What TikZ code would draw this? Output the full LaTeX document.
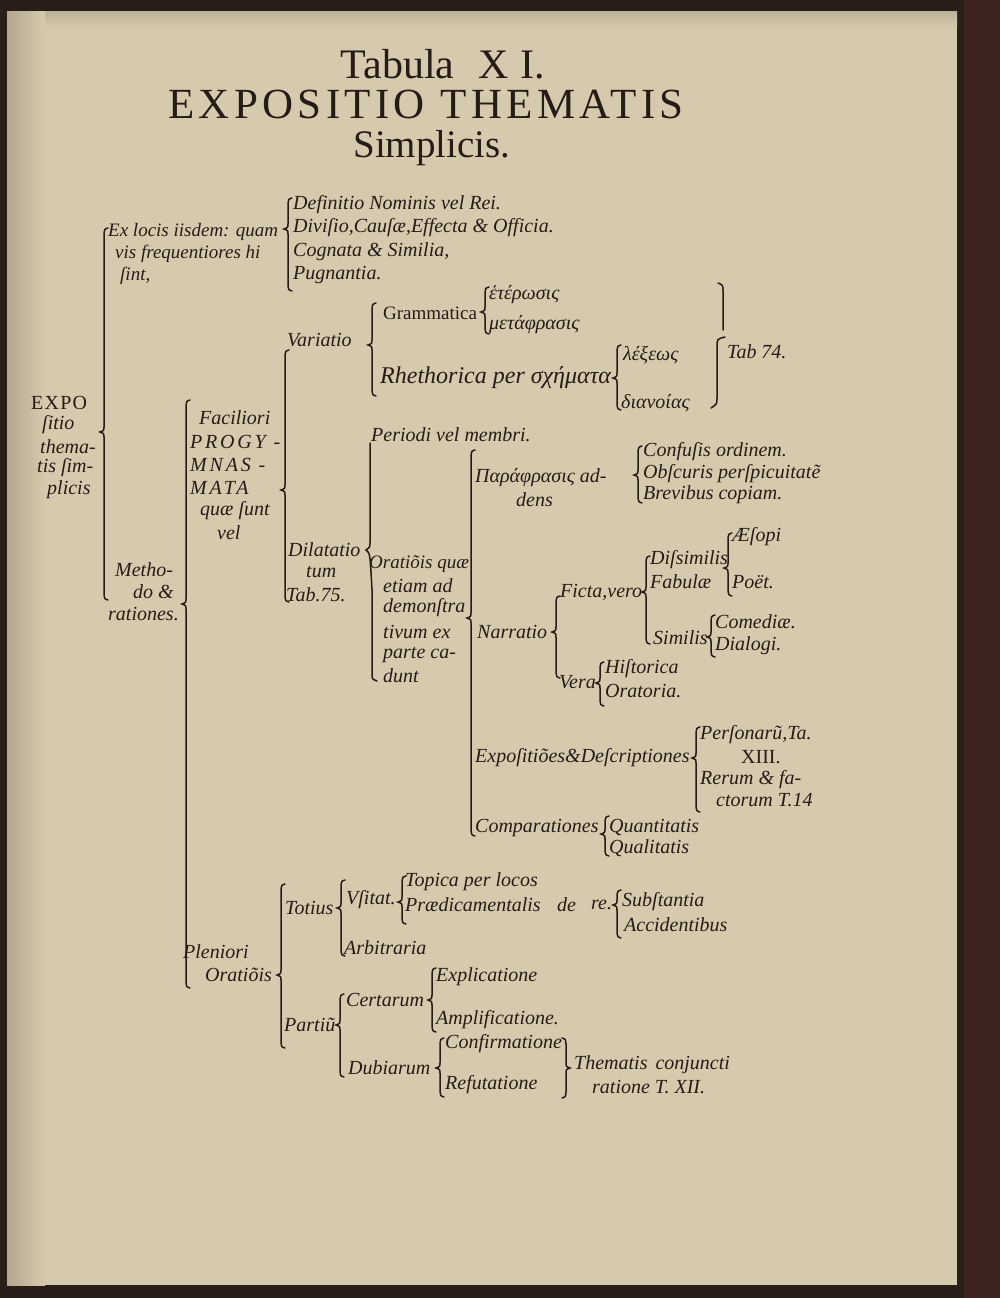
\documentclass[tikz,border=0pt]{standalone}
\usepackage{fontspec}
\setmainfont{Liberation Serif}
\newfontfamily\spacedfont[LetterSpace=10]{Liberation Serif}
\newfontfamily\capsfont[LetterSpace=14]{Liberation Serif}
\newfontfamily\expofont[LetterSpace=6]{Liberation Serif}
\definecolor{ink}{HTML}{261B15}
\definecolor{page}{HTML}{D6CAAE}
\definecolor{shadow}{HTML}{B3A88F}
\definecolor{darkedge}{HTML}{2A1E19}
\definecolor{rededge}{HTML}{3E2420}
\newcommand\brcL[4]{\draw[brk] ({#1+4},#2) .. controls ({#1+0.5},{#2+1}) .. (#1,{#2+6}) -- (#1,{#3-5}) .. controls (#1,{#3-1.5}) .. ({#1-4},#3) .. controls (#1,{#3+1.5}) .. (#1,{#3+5}) -- (#1,{#4-6}) .. controls ({#1+0.5},{#4-1}) .. ({#1+4},#4);}
\newcommand\brcR[4]{\draw[brk] ({#1-4},#2) .. controls ({#1-0.5},{#2+1}) .. (#1,{#2+6}) -- (#1,{#3-5}) .. controls (#1,{#3-1.5}) .. ({#1+4},#3) .. controls (#1,{#3+1.5}) .. (#1,{#3+5}) -- (#1,{#4-6}) .. controls ({#1-0.5},{#4-1}) .. ({#1-4},#4);}
\tikzset{
  it/.style={anchor=west, inner sep=0pt, text=ink, font=\itshape\fontsize{20}{22}\selectfont},
  its/.style={it, font=\itshape\fontsize{19}{22}\selectfont},
  rmt/.style={anchor=west, inner sep=0pt, text=ink, font=\fontsize{19}{22}\selectfont},
  capsit/.style={it, font=\capsfont\itshape\fontsize{20}{22}\selectfont},
  title/.style={inner sep=0pt, text=ink},
  brk/.style={draw=ink, line width=1.5pt, line cap=round},
}
\begin{document}
\begin{tikzpicture}[x=1pt,y=-1pt]
\useasboundingbox (0,0) rectangle (1000,1298);
% page
\fill[darkedge] (0,0) rectangle (1000,1298);
\fill[rededge] (964,0) rectangle (1000,1298);
\fill[page] (7,12) rectangle (957,1285);
\shade[top color=shadow!70!page, bottom color=page] (7,12) rectangle (957,28);
\shade[left color=shadow, right color=page] (7,12) rectangle (45,1285);

% title
\node[title, font=\fontsize{42}{46}\selectfont] (t1) at (443,64) {Tabula\hspace{24pt}X\hspace{12pt}I.};
\node[title, font=\spacedfont\fontsize{43}{48}\selectfont] (t2) at (426,104) {EXPOSITIO\hspace{16pt}THEMATIS};
\node[title, font=\fontsize{39}{44}\selectfont] (t3) at (432,148) {Simplicis.};

% Ex locis
\node[its] (a1) at (108,232) {Ex locis iisdem: quam};
\node[its] (a2) at (115,254) {vis frequentiores hi};
\node[its] (a3) at (120,276) {ſint,};
\brcL{288}{198}{229}{291}
\node[it] (b1) at (293,205) {Definitio Nominis vel Rei.};
\node[it] (b2) at (293,228) {Diviſio,Cauſæ,Effecta \& Officia.};
\node[it] (b3) at (293,252) {Cognata \& Similia,};
\node[it] (b4) at (293,275) {Pugnantia.};

% EXPO column
\node[rmt, font=\expofont\fontsize{20}{22}\selectfont] (e1) at (31,403) {EXPO};
\node[it] (e2) at (42,425) {ſitio};
\node[it] (e3) at (40,447) {thema-};
\node[it] (e4) at (37,468) {tis ſim-};
\node[it] (e5) at (47,490) {plicis};
\brcL{104}{228}{432}{600}
\node[it] (m1) at (115,570) {Metho-};
\node[it] (m2) at (133,592) {do \&};
\node[it] (m3) at (108,614) {rationes.};

% Faciliori
\node[it] (f1) at (199,418) {Faciliori};
\node[capsit] (f2) at (190,442) {PROGY -};
\node[capsit] (f3) at (190,465) {MNAS -};
\node[capsit] (f4) at (190,488) {MATA};
\node[it] (f5) at (200,511) {quæ ſunt};
\node[it] (f6) at (217,533) {vel};
\brcL{186}{400}{604}{988}

% Variatio / Dilatatio
\node[it] (v1) at (287,340) {Variatio};
\node[it] (d1) at (288,550) {Dilatatio};
\node[it] (d2) at (306,572) {tum};
\node[it] (d3) at (286,595) {Tab.75.};
\brcL{285}{350}{490}{602}

% Variatio branches
\brcL{372}{303}{345}{396}
\node[rmt] (g1) at (383,313) {Grammatica};
\brcL{485}{287}{312}{334}
\node[it] (g2) at (489,295) {ἑτέρωσις};
\node[it] (g3) at (489,325) {μετάφρασις};
\node[it, font=\itshape\fontsize{24}{28}\selectfont] (r1) at (380,378) {Rhethorica per σχήματα};
\brcL{617}{345}{378}{410}
\node[it] (r2) at (623,355) {λέξεως};
\node[it] (r3) at (621,403) {διανοίας};
\draw[brk] (718,283) .. controls (723,285) .. (723,292) -- (723,330);
\draw[brk] (725,337) .. controls (717,339) .. (717,347) -- (717,398) .. controls (717,404) .. (711,408);
\node[it] (tab74) at (727,352) {Tab 74.};

% Periodi / Orationis
\node[it] (p1) at (371,435) {Periodi vel membri.};
\draw[brk] (370,443) -- (370,543) .. controls (370,547) .. (366,550) .. controls (370,553) .. (372,590) -- (372,674) .. controls (372,679) .. (377,681);
\node[its] (o1) at (369,564) {Oratiõis quæ};
\node[it] (o2) at (383,586) {etiam ad};
\node[it] (o3) at (383,608) {demonſtra};
\node[it] (o4) at (383,632) {tivum ex};
\node[it] (o5) at (383,655) {parte ca-};
\node[it] (o6) at (383,676) {dunt};
\brcL{471}{450}{618}{836}

% Paraphrasis
\node[it] (pa1) at (475,478) {Παράφρασις ad-};
\node[it] (pa2) at (516,500) {dens};
\brcL{638}{446}{475}{503}
\node[it] (c1) at (643,452) {Confuſis ordinem.};
\node[it] (c2) at (643,474) {Obſcuris perſpicuitatẽ};
\node[it] (c3) at (643,495) {Brevibus copiam.};

% Narratio
\node[it] (n1) at (477,632) {Narratio};
\brcL{556}{596}{632}{678}
\node[it] (fi) at (560,592) {Ficta,vero};
\brcL{646}{556}{592}{644}
\node[it] (ds1) at (650,560) {Diſsimilis};
\node[it] (ds2) at (650,582) {Fabulæ};
\brcL{728}{533}{568}{596}
\node[it] (ae) at (732,537) {Æſopi};
\node[it] (po) at (732,582) {Poët.};
\node[it] (si) at (653,638) {Similis};
\brcL{711}{615}{637}{657}
\node[it] (co) at (715,622) {Comediæ.};
\node[it] (di) at (715,646) {Dialogi.};
\node[it] (ve) at (559,682) {Vera};
\brcL{600}{662}{683}{706}
\node[it] (hi) at (605,669) {Hiſtorica};
\node[it] (or) at (605,691) {Oratoria.};

% Expositiones
\node[it] (ex) at (475,758) {Expoſitiões\&Deſcriptiones};
\brcL{696}{727}{758}{812}
\node[it] (pe1) at (700,735) {Perſonarũ,Ta.};
\node[rmt, font=\fontsize{20}{22}\selectfont] (pe2) at (741,757) {XIII.};
\node[it] (pe3) at (700,780) {Rerum \& fa-};
\node[it] (pe4) at (716,800) {ctorum T.14};
\node[it] (cm) at (475,828) {Comparationes};
\brcL{605}{816}{834}{856}
\node[it] (qn) at (609,827) {Quantitatis};
\node[it] (ql) at (609,848) {Qualitatis};

% Pleniori
\node[it] (pl1) at (183,952) {Pleniori};
\node[it] (pl2) at (205,975) {Oratiõis};
\brcL{281}{884}{975}{1048}
\node[it] (to) at (285,908) {Totius};
\brcL{341}{880}{908}{956}
\node[it] (us) at (346,900) {Vſitat.};
\brcL{402}{876}{902}{924}
\node[it] (tp1) at (405,882) {Topica per locos};
\node[it] (tp2) at (405,905) {Prædicamentalis};
\node[it] (tp3) at (557,905) {de};
\node[it] (tp4) at (591,905) {re.};
\brcL{617}{890}{905}{938}
\node[it] (su) at (622,902) {Subſtantia};
\node[it] (ac) at (624,925) {Accidentibus};
\node[it] (ar) at (344,948) {Arbitraria};
\node[it] (pt) at (284,1025) {Partiũ};
\brcL{340}{994}{1025}{1077}
\node[it] (ce) at (346,1000) {Certarum};
\brcL{432}{968}{1000}{1032}
\node[it] (expl) at (436,977) {Explicatione};
\node[it] (am) at (436,1020) {Amplificatione.};
\node[it] (du) at (348,1068) {Dubiarum};
\brcL{440}{1038}{1068}{1097}
\node[it] (cf) at (445,1044) {Confirmatione};
\node[it] (rf) at (445,1085) {Refutatione};
\brcR{566}{1038}{1068}{1098}
\node[it] (th1) at (574,1065) {Thematis\hspace{8pt}conjuncti};
\node[it] (th2) at (592,1087) {ratione T. XII.};
\end{tikzpicture}
\end{document}
